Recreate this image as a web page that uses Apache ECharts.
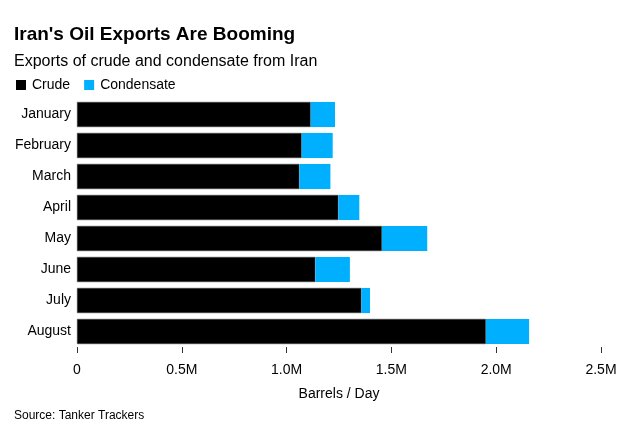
<!DOCTYPE html>
<html>
<head>
<meta charset="utf-8">
<script src="https://cdn.jsdelivr.net/npm/echarts@6/dist/echarts.min.js"></script>
<style>
  html, body { margin: 0; padding: 0; background: #fff; }
  #chart { width: 643px; height: 439px; }
</style>
</head>
<body>
<div id="chart"></div>
<script>
// 月份
var months = ['January', 'February', 'March', 'April', 'May', 'June', 'July', 'August'];
// 原油 (barrels / day)
var crude = [1115000, 1072000, 1061000, 1247000, 1455000, 1137000, 1357000, 1951000];
// 凝析油
var condensate = [116000, 148000, 148000, 100000, 216000, 165000, 41000, 206000];
var xTicks = [0, 500000, 1000000, 1500000, 2000000, 2500000];

var font = 'Liberation Sans, Arial, sans-serif';

function fmtTick(v) {
  if (v === 0) return '0';
  return (v / 1e6).toFixed(1) + 'M';
}

var myChart = echarts.init(document.getElementById('chart'));
var option = {
  animation: false,
  title: {
    text: "Iran's Oil Exports Are Booming",
    subtext: 'Exports of crude and condensate from Iran',
    left: 9,
    top: 20,
    itemGap: 10,
    textStyle: { fontFamily: font, fontSize: 19, fontWeight: 'bold', color: '#000' },
    subtextStyle: { fontFamily: font, fontSize: 16, color: '#000' }
  },
  legend: {
    left: 11,
    top: 73,
    icon: 'rect',
    itemWidth: 10,
    itemHeight: 10,
    itemGap: 14,
    itemStyle: { borderWidth: 0 },
    textStyle: { fontFamily: font, fontSize: 14, color: '#000', padding: [0, 0, 0, 1] },
    data: ['Crude', 'Condensate']
  },
  grid: { left: 77, right: 42, top: 99, bottom: 92 },
  xAxis: {
    type: 'value',
    min: 0,
    max: xTicks[xTicks.length - 1],
    interval: xTicks[1] - xTicks[0],
    name: 'Barrels / Day',
    nameLocation: 'middle',
    nameGap: 40,
    nameTextStyle: { fontFamily: font, fontSize: 14, color: '#000' },
    axisLine: { show: false },
    axisTick: { show: true, length: 6, lineStyle: { color: '#333' } },
    splitLine: { show: false },
    axisLabel: { fontFamily: font, fontSize: 14, color: '#000', margin: 16, formatter: fmtTick }
  },
  yAxis: {
    type: 'category',
    inverse: true,
    data: months,
    axisLine: { show: false },
    axisTick: { show: false },
    axisLabel: { fontFamily: font, fontSize: 14, color: '#000', margin: 6 }
  },
  series: [
    {
      name: 'Crude',
      type: 'bar',
      stack: 'total',
      barCategoryGap: '19%',
      itemStyle: { color: '#000', borderColor: '#444', borderWidth: 0.5 },
      data: crude
    },
    {
      name: 'Condensate',
      type: 'bar',
      stack: 'total',
      itemStyle: { color: '#00b0ff' },
      data: condensate
    }
  ],
  graphic: [{
    type: 'text',
    left: 14,
    top: 410,
    style: { text: 'Source: Tanker Trackers', fontFamily: font, fontSize: 12, fill: '#000' }
  }]
};
myChart.setOption(option);
</script>
</body>
</html>
